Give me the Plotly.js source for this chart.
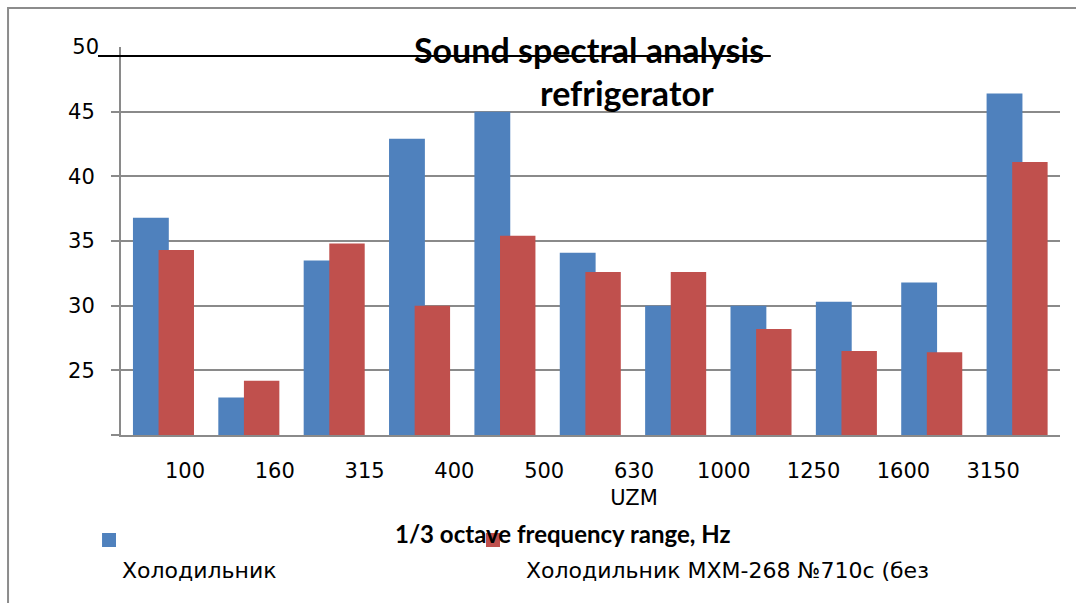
<!DOCTYPE html>
<html>
<head>
<meta charset="utf-8">
<script src="https://cdn.plot.ly/plotly-3.0.1.min.js"></script>
<style>html,body{margin:0;padding:0;background:#fff;}#chart{width:1076px;height:603px;}</style>
</head>
<body>
<div id="chart"></div>
<script>
// Data
var groups = ['100', '160', '315', '400', '500', '630', '1000', '1250', '1600', '3150', 'UZM'];
var seriesA = [36.8, 22.9, 33.5, 42.9, 45.0, 34.1, 30.0, 30.0, 30.3, 31.8, 46.4];
var seriesB = [34.3, 24.2, 34.8, 30.0, 35.4, 32.6, 32.6, 28.2, 26.5, 26.4, 41.1];
var tickLabels = ['100', '160', '315', '400', '500', '630<br>UZM', '1000', '1250', '1600', '3150'];
var yTicks = [20, 25, 30, 35, 40, 45];
var yTickText = ['', '25', '30', '35', '40', '45'];
var nameA = 'Холодильник';
var nameB = 'Холодильник МХМ-268 №710с (без';
var titleLine1 = 'Sound spectral analysis';
var titleLine2 = 'refrigerator';
var xTitle = '1/3 octave frequency range, Hz';

var blue = '#4F81BD', red = '#C0504D', grid = '#8a8a8a';
var tickFont = {family: 'DejaVu Sans', size: 21, color: '#000'};

var traces = [
  {type: 'bar', x: groups, y: seriesA, name: nameA, marker: {color: blue, line: {width: 0}},
   offset: -0.36, width: 0.42, showlegend: false, hoverinfo: 'none'},
  {type: 'bar', x: groups, y: seriesB, name: nameB, marker: {color: red, line: {width: 0}},
   offset: -0.06, width: 0.415, showlegend: false, hoverinfo: 'none'},
  {type: 'scatter', mode: 'markers', x: tickLabels, y: tickLabels.map(function(){return null;}),
   xaxis: 'x2', yaxis: 'y', showlegend: false, hoverinfo: 'none'},
  {type: 'scatter', mode: 'markers', x: groups, y: groups.map(function(){return null;}),
   xaxis: 'x', yaxis: 'y2', showlegend: false, hoverinfo: 'none'}
];

var layout = {
  width: 1076, height: 603,
  margin: {l: 121, r: 16, t: 47, b: 168},
  paper_bgcolor: '#fff', plot_bgcolor: '#fff',
  barmode: 'overlay',
  showlegend: false,
  title: {text: titleLine1, font: {family: 'Lato', size: 34, color: '#000', weight: 'bold'},
          x: 589 / 1076, xanchor: 'center', xref: 'container', y: 1 - 51 / 603, yanchor: 'middle', yref: 'container'},
  xaxis: {type: 'category', categoryorder: 'array', categoryarray: groups, range: [-0.5, 10.5],
          showticklabels: false, ticks: '', showgrid: false, zeroline: false,
          showline: true, linecolor: grid, linewidth: 2, fixedrange: true},
  xaxis2: {type: 'category', categoryorder: 'array', categoryarray: tickLabels, overlaying: 'x', anchor: 'y', side: 'bottom',
           range: [-0.7127, 9.744], showgrid: false, zeroline: false, showline: false, ticks: '',
           tickfont: tickFont, ticklabelstandoff: 21, fixedrange: true},
  yaxis: {range: [20, 50], tickvals: yTicks, ticktext: yTickText, showgrid: true, gridcolor: grid, gridwidth: 2,
          zeroline: false, showline: true, linecolor: grid, linewidth: 2, ticks: 'outside', ticklen: 8,
          tickcolor: grid, tickwidth: 2, tickfont: tickFont, ticklabelstandoff: 12, fixedrange: true},
  yaxis2: {range: [20, 50], overlaying: 'y', anchor: 'x', side: 'left', tickvals: [50], ticktext: ['50'],
           showgrid: false, zeroline: false, showline: false, ticks: '', tickfont: tickFont,
           ticklabelstandoff: 21, fixedrange: true},
  shapes: [
    {type: 'rect', xref: 'paper', yref: 'paper', x0: -0.1203, x1: 1.05, y0: -0.5, y1: 1.1005,
     line: {color: '#8c8c8c', width: 2}, fillcolor: 'rgba(0,0,0,0)', layer: 'below'},
    {type: 'line', xref: 'paper', yref: 'paper', x0: -0.0245, x1: 0.692, y0: 0.977, y1: 0.977,
     line: {color: '#000', width: 2}},
    {type: 'rect', xref: 'paper', yref: 'paper', x0: -0.0202, x1: -0.0053, y0: -0.2887, y1: -0.2526,
     line: {width: 0}, fillcolor: blue},
    {type: 'rect', xref: 'paper', yref: 'paper', x0: 0.3887, x1: 0.4036, y0: -0.2887, y1: -0.2526,
     line: {width: 0}, fillcolor: red}
  ],
  annotations: [
    {text: titleLine2, xref: 'paper', yref: 'paper', x: 0.539, y: 0.884, xanchor: 'center', yanchor: 'middle',
     showarrow: false, font: {family: 'Lato', size: 34, color: '#000', weight: 'bold'}},
    {text: xTitle, xref: 'paper', yref: 'paper', x: 0.4707, y: -0.2526, xanchor: 'center', yanchor: 'middle',
     showarrow: false, font: {family: 'Lato', size: 24, color: '#000', weight: 'bold'}},
    {text: nameA, xref: 'paper', yref: 'paper', x: -0.001, y: -0.348, xanchor: 'left', yanchor: 'middle',
     showarrow: false, font: {family: 'DejaVu Sans', size: 22, color: '#000'}},
    {text: nameB, xref: 'paper', yref: 'paper', x: 0.4295, y: -0.348, xanchor: 'left', yanchor: 'middle',
     showarrow: false, font: {family: 'DejaVu Sans', size: 22, color: '#000'}}
  ]
};

Plotly.newPlot('chart', traces, layout, {displayModeBar: false, staticPlot: true});
</script>
</body>
</html>
